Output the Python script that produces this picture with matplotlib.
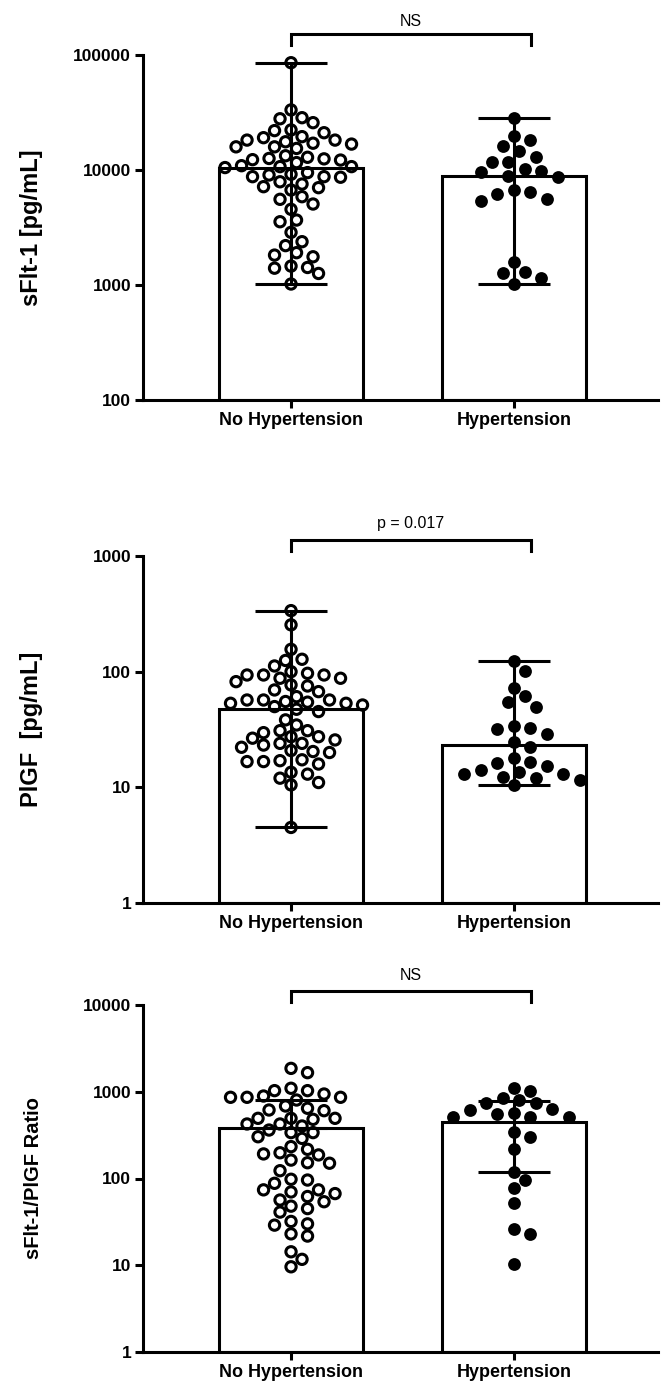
import matplotlib
matplotlib.use('Agg')
import matplotlib.pyplot as plt
import numpy as np

plt.rcParams['font.family'] = ['Liberation Sans', 'DejaVu Sans']

groups = ['No Hypertension', 'Hypertension']

# sFlt-1 [pg/mL]
sflt_no = [85700, 33300, 28500, 25800, 27900, 22000, 21100, 22300, 19500, 19100,
           16800, 17600, 15900, 17100, 15400, 18200, 18200, 15900, 12900, 12500,
           11600, 10500, 12200, 12600, 12300, 13300, 10900, 10700, 10700, 8750,
           9180, 8650, 9050, 8750, 7900, 9490, 7550, 7160, 7020, 6700,
           5860, 5560, 4550, 5060, 3550, 3670, 2870, 2380, 2200, 1910,
           1820, 1760, 1460, 1420, 1400, 1260, 1020]
sflt_hyp = [28100, 19800, 18200, 16200, 14700, 11800, 11800, 13000, 9800, 10200,
            8870, 8750, 9550, 6700, 6480, 6180, 5560, 5370, 1600, 1310,
            1260, 1140, 1020]
sflt_bar = [10300, 8750]

# PlGF [pg/mL]
plgf_no = [337, 254, 156, 125, 128, 112, 100, 87.7, 82, 76.8,
           96.8, 93.6, 93.6, 93.6, 87.7, 75.2, 69.5, 67.2, 56.9, 56.9,
           53.3, 49.9, 53.3, 54.5, 55.2, 56.9, 47.3, 51.5, 60.8, 45.2,
           38.3, 30.9, 26.6, 30.9, 34.6, 27.4, 29.7, 27.4, 25.7, 24.0,
           24.0, 22.2, 20.4, 23.2, 20.0, 20.8, 17.3, 16.7, 15.9, 17.0,
           16.7, 13.5, 12.0, 13.0, 11.0, 10.5, 4.5]
plgf_hyp = [124, 101, 72.8, 61.6, 55, 49.9, 33.9, 32.4, 31.8, 28.8,
            24.5, 22.5, 16.7, 13.7, 16.1, 15.2, 17.9, 14.1, 13.1, 13.1,
            12.4, 12.0, 11.6, 10.4]
plgf_bar = [46.7, 22.0]

# sFlt-1/PlGF ratio
ratio_no = [1860, 1660, 893, 1097, 1030, 1030, 863, 863, 863, 942,
            803, 685, 605, 645, 616, 494, 494, 494, 481, 425,
            425, 338, 338, 362, 403, 303, 290, 233, 217, 192,
            187, 198, 163, 152, 150, 123, 96, 98, 88, 74,
            62, 74, 70, 54, 67, 56.5, 45, 48, 41, 29,
            32, 30, 23, 21.7, 14.3, 11.7, 9.6]
ratio_hyp = [1115, 1030, 853, 803, 736, 736, 628, 617, 550, 516,
             574, 516, 516, 340, 303, 219, 120, 96, 77, 52.6,
             26, 23, 10.3]
ratio_bar = [380, 444]
ratio_lo = [380, 118]
ratio_hi = [803, 789]


def swarm_x(ax, xc, values, diam_px, step_px):
    vals = np.asarray(values, dtype=float)
    pts = ax.transData.transform(np.column_stack([np.full(len(vals), xc), vals]))
    ys = pts[:, 1]
    px_unit = ax.transData.transform((1, 1))[0] - ax.transData.transform((0, 1))[0]
    cand = [0.0]
    for k in range(1, 40):
        cand += [k * step_px, -k * step_px]
    placed = []
    offs = np.zeros(len(vals))
    for i in np.argsort(-vals, kind='stable'):
        for c in cand:
            if all((c - px) ** 2 + (ys[i] - py) ** 2 >= diam_px ** 2 for px, py in placed):
                break
        offs[i] = c
        placed.append((c, ys[i]))
    return xc + offs / px_unit


def draw_panel(ax, no_vals, hyp_vals, bars, lo, hi, ylim, ylabel, label_size, note, br):
    ax.set_yscale('log')
    ax.set_ylim(*ylim)
    ax.set_xlim(-0.664, 1.646)
    decades = 10.0 ** np.arange(np.log10(ylim[0]), np.log10(ylim[1]) + 0.5)
    ax.set_yticks(decades)
    ax.set_yticklabels(['%d' % d for d in decades])
    ax.yaxis.set_minor_locator(matplotlib.ticker.NullLocator())
    ax.set_xticks([0, 1])
    ax.set_xticklabels(groups)
    for s in ['top', 'right']:
        ax.spines[s].set_visible(False)
    for s in ['left', 'bottom']:
        ax.spines[s].set_linewidth(2.2)
    ax.tick_params(axis='both', width=2.2, length=5.5, pad=3)
    for t in ax.get_yticklabels():
        t.set_fontsize(12.5)
        t.set_fontweight('bold')
    for t in ax.get_xticklabels():
        t.set_fontsize(13)
        t.set_fontweight('bold')
    ax.set_ylabel(ylabel, fontsize=label_size, fontweight='bold')
    ax.yaxis.set_label_coords(-0.195, 0.5)

    ax.bar([0, 1], bars, width=0.65, bottom=ylim[0], color='white',
           edgecolor='black', linewidth=2.2, zorder=1)
    for i in range(2):
        ax.errorbar(i, bars[i], yerr=[[bars[i] - lo[i]], [hi[i] - bars[i]]],
                    fmt='none', ecolor='black', elinewidth=2.2, capsize=26,
                    capthick=2.2, zorder=2)

    xs0 = swarm_x(ax, 0, no_vals, 12.0, 5.5)
    xs1 = swarm_x(ax, 1, hyp_vals, 13.5, 5.5)
    ax.scatter(xs0, no_vals, s=55, facecolors='none', edgecolors='black',
               linewidths=2.2, zorder=3, clip_on=False)
    ax.scatter(xs1, hyp_vals, s=85, color='black', linewidths=0, zorder=3,
               clip_on=False)

    tr = ax.get_xaxis_transform()
    ax.plot([0, 0, 1.076, 1.076], [br[1], br[0], br[0], br[1]], color='black',
            lw=2.2, transform=tr, clip_on=False, solid_joinstyle='miter')
    ax.text(0.538, br[2], note, transform=tr, ha='center', va='center',
            fontsize=11.5)


fig = plt.figure(figsize=(6.63, 13.83), dpi=100)
left = 143 / 663
width = (658 - 143) / 663
ax1 = fig.add_axes([left, 1 - 400 / 1383, width, 345 / 1383])
ax2 = fig.add_axes([left, 1 - 903 / 1383, width, 347 / 1383])
ax3 = fig.add_axes([left, 1 - 1352 / 1383, width, 347 / 1383])

draw_panel(ax1, sflt_no, sflt_hyp, sflt_bar,
           [min(sflt_no), min(sflt_hyp)], [max(sflt_no), max(sflt_hyp)],
           (100, 100000), 'sFlt-1 [pg/mL]', 17, 'NS', (1.061, 1.029, 1.096))
draw_panel(ax2, plgf_no, plgf_hyp, plgf_bar,
           [min(plgf_no), min(plgf_hyp)], [max(plgf_no), max(plgf_hyp)],
           (1, 1000), 'PlGF  [pg/mL]', 17, 'p = 0.017', (1.046, 1.014, 1.095))
draw_panel(ax3, ratio_no, ratio_hyp, ratio_bar, ratio_lo, ratio_hi,
           (1, 10000), 'sFlt-1/PlGF Ratio', 14.5, 'NS', (1.040, 1.009, 1.086))

fig.savefig('out.png', dpi=100)
